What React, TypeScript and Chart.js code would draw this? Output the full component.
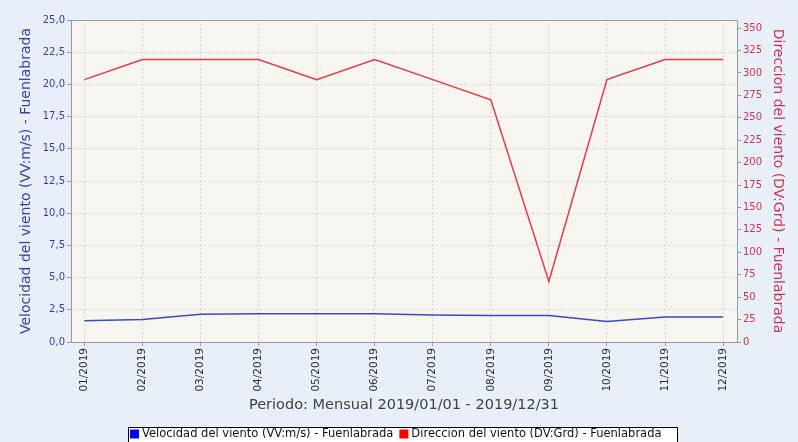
import React, { useEffect, useRef } from "react";
import { Chart, registerables } from "chart.js";

Chart.register(...registerables);

const categories = ["01/2019", "02/2019", "03/2019", "04/2019", "05/2019", "06/2019", "07/2019", "08/2019", "09/2019", "10/2019", "11/2019", "12/2019"];
const windSpeed = [1.65, 1.75, 2.15, 2.2, 2.2, 2.2, 2.1, 2.05, 2.05, 1.6, 1.95, 1.95];
const windDirection = [292.5, 315, 315, 315, 292.5, 315, 292.5, 270, 67.5, 292.5, 315, 315];
const leftTicks = [0, 2.5, 5, 7.5, 10, 12.5, 15, 17.5, 20, 22.5, 25];
const rightTicks = [0, 25, 50, 75, 100, 125, 150, 175, 200, 225, 250, 275, 300, 325, 350];

const speedLabel = "Velocidad del viento (VV:m/s) - Fuenlabrada";
const dirLabel = "Direccion del viento (DV:Grd) - Fuenlabrada";
const xTitle = "Periodo: Mensual 2019/01/01 - 2019/12/31";

const FONT = "'DejaVu Sans', sans-serif";
const BLUE_LINE = "#4646c0";
const RED_LINE = "#dc3c4c";
const BLUE_TEXT = "#3c3ca4";
const RED_TEXT = "#c8344c";

const bgPlugin = {
  id: "bgPlugin",
  beforeDraw(chart: any) {
    const { ctx, chartArea } = chart;
    ctx.save();
    ctx.fillStyle = "#e9eff9";
    ctx.fillRect(0, 0, chart.width, chart.height);
    ctx.fillStyle = "#f6f5f0";
    ctx.fillRect(chartArea.left, chartArea.top, chartArea.right - chartArea.left, chartArea.bottom - chartArea.top);
    ctx.restore();
  },
  afterDraw(chart: any) {
    const { ctx, chartArea } = chart;
    ctx.save();
    ctx.strokeStyle = "#9a9a9a";
    ctx.lineWidth = 1;
    ctx.strokeRect(chartArea.left + 0.5, chartArea.top + 0.5, chartArea.right - chartArea.left, chartArea.bottom - chartArea.top);
    // legend
    ctx.font = "11.5px " + FONT;
    const w1 = ctx.measureText(speedLabel).width;
    const w2 = ctx.measureText(dirLabel).width;
    const box = 9;
    const total = box + 3 + w1 + 6 + box + 3 + w2;
    const boxLeft = 128;
    const boxRight = Math.max(677, boxLeft + total + 6);
    ctx.fillStyle = "#ffffff";
    ctx.fillRect(boxLeft, 427, boxRight - boxLeft, 20);
    ctx.strokeStyle = "#000000";
    ctx.strokeRect(boxLeft + 0.5, 427.5, boxRight - boxLeft, 20);
    let x = 130;
    const cy = 434;
    ctx.fillStyle = "#0000ff";
    ctx.fillRect(x, cy - 4.5, box, box);
    x += box + 3;
    ctx.fillStyle = "#111111";
    ctx.textBaseline = "middle";
    ctx.textAlign = "left";
    ctx.fillText(speedLabel, x, cy);
    x += w1 + 6;
    ctx.fillStyle = "#ff0000";
    ctx.fillRect(x, cy - 4.5, box, box);
    x += box + 3;
    ctx.fillStyle = "#111111";
    ctx.fillText(dirLabel, x, cy);
    ctx.restore();
  },
};

export default function App() {
  const ref = useRef<HTMLCanvasElement>(null);
  useEffect(() => {
    if (!ref.current) return;
    const chart = new Chart(ref.current, {
      type: "line",
      data: {
        datasets: [
          {
            label: speedLabel,
            data: windSpeed.map((v, i) => ({ x: i, y: v })),
            borderColor: BLUE_LINE,
            backgroundColor: BLUE_LINE,
            borderWidth: 1.5,
            pointRadius: 0,
            yAxisID: "y",
            tension: 0,
          },
          {
            label: dirLabel,
            data: windDirection.map((v, i) => ({ x: i, y: v })),
            borderColor: RED_LINE,
            backgroundColor: RED_LINE,
            borderWidth: 1.5,
            pointRadius: 0,
            yAxisID: "y1",
            tension: 0,
          },
        ],
      },
      options: {
        animation: false,
        responsive: false,
        devicePixelRatio: 1,
        layout: { padding: { top: 20, left: 0, right: 0, bottom: 0 } },
        plugins: { legend: { display: false }, tooltip: { enabled: false } },
        scales: {
          x: {
            type: "linear",
            min: -0.23,
            max: 11.24,
            afterBuildTicks: (s: any) => {
              s.ticks = categories.map((_, i) => ({ value: i }));
            },
            afterFit: (s: any) => {
              s.height = 100;
            },
            ticks: {
              autoSkip: false,
              minRotation: 90,
              maxRotation: 90,
              padding: 2,
              color: "#2a2a2a",
              font: { family: FONT, size: 10.5 },
              callback: (v: any) => categories[v] ?? "",
            },
            grid: {
              color: "#d6d6d6",
              tickColor: "#9a9a9a",
              tickLength: 4,
              drawOnChartArea: true,
            },
            border: { display: true, color: "#9a9a9a", dash: [2, 2] },
            title: {
              display: true,
              text: xTitle,
              color: "#404040",
              font: { family: FONT, size: 14.5 },
              padding: { top: 0, bottom: 28 },
            },
          },
          y: {
            type: "linear",
            position: "left",
            min: 0,
            max: 25,
            afterBuildTicks: (s: any) => {
              s.ticks = leftTicks.map((v) => ({ value: v }));
            },
            afterFit: (s: any) => {
              s.width = 71;
            },
            ticks: {
              padding: 2,
              color: BLUE_TEXT,
              font: { family: FONT, size: 10 },
              callback: (v: any) => Number(v).toFixed(1).replace(".", ","),
            },
            grid: {
              color: "#d6d6d6",
              tickColor: "#9a9a9a",
              tickLength: 4,
            },
            border: { display: true, color: "#9a9a9a", dash: [2, 2] },
            title: {
              display: true,
              text: speedLabel,
              color: BLUE_TEXT,
              font: { family: FONT, size: 14 },
              padding: { top: 18, bottom: 0 },
            },
          },
          y1: {
            type: "linear",
            position: "right",
            min: 0,
            max: 359,
            afterBuildTicks: (s: any) => {
              s.ticks = rightTicks.map((v) => ({ value: v }));
            },
            afterFit: (s: any) => {
              s.width = 61;
            },
            ticks: {
              padding: 2,
              color: RED_TEXT,
              font: { family: FONT, size: 10 },
            },
            grid: {
              drawOnChartArea: false,
              tickColor: "#9a9a9a",
              tickLength: 4,
            },
            border: { display: true, color: "#9a9a9a" },
            title: {
              display: true,
              text: dirLabel,
              color: RED_TEXT,
              font: { family: FONT, size: 14 },
              padding: { top: 12, bottom: 0 },
            },
          },
        },
      },
      plugins: [bgPlugin],
    } as any);
    return () => chart.destroy();
  }, []);
  return (
    <div style={{ position: "fixed", left: 0, top: 0, width: 798, height: 442 }}>
      <canvas ref={ref} width={798} height={442} style={{ display: "block" }} />
    </div>
  );
}
